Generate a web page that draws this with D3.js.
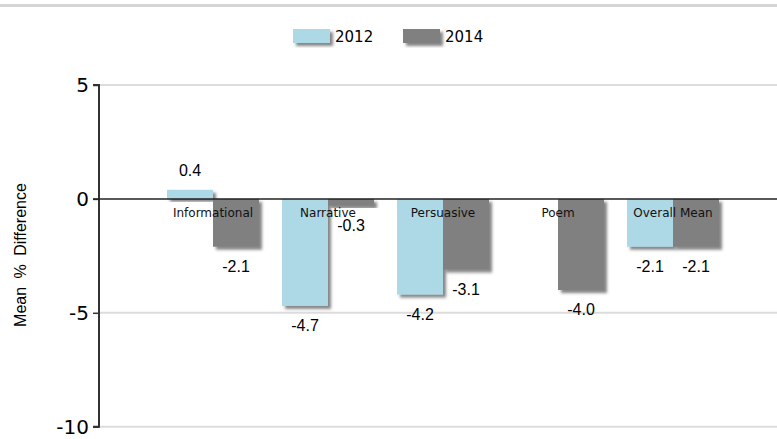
<!DOCTYPE html>
<html><head><meta charset="utf-8">
<script src="https://cdnjs.cloudflare.com/ajax/libs/d3/7.8.5/d3.min.js"></script>
<style>body{margin:0;background:#fff}svg{display:block}</style>
</head><body>
<script>
const categories = ["Informational","Narrative","Persuasive","Poem","Overall Mean"];
const seriesNames = ["2012","2014"];
const values2012 = [0.4, -4.7, -4.2, null, -2.1];
const values2014 = [-2.1, -0.3, -3.1, -4.0, -2.1];
const yTicks = [5, 0, -5, -10];
const colors = ["#add8e6", "#808080"];

const W = 777, H = 439;
const svg = d3.select("body").append("svg").attr("width", W).attr("height", H);
const defs = svg.append("defs");
const f = defs.append("filter").attr("id","sh").attr("x","-20%").attr("y","-20%").attr("width","150%").attr("height","150%");
f.append("feDropShadow").attr("dx",3).attr("dy",3).attr("stdDeviation",1.5).attr("flood-color","#333").attr("flood-opacity",0.6);

// top border
svg.append("rect").attr("x",0).attr("y",4).attr("width",W).attr("height",3).attr("fill","#d4d4d4");

const y = d3.scaleLinear().domain([-10,5]).range([426.7,85]);
const x = d3.scaleBand().domain(categories).range([155.5,730.5]).paddingInner(0.2).paddingOuter(0.1);
const xs = d3.scaleBand().domain(seriesNames).range([0, x.bandwidth()]);

// gridlines
svg.append("g").selectAll("line").data(yTicks.filter(d=>d!==0)).join("line")
  .attr("x1",99).attr("x2",W).attr("y1",d=>y(d)).attr("y2",d=>y(d))
  .attr("stroke","#dcdcdc").attr("stroke-width",2);

// y axis
const yAxis = d3.axisLeft(y).tickValues(yTicks).tickSize(6).tickPadding(4).tickFormat(d=>String(d));
const ga = svg.append("g").attr("transform","translate(99,0)").call(yAxis);
ga.select(".domain").attr("stroke","#333").attr("stroke-width",2).attr("d","M-6,"+y(5)+"H0V"+y(-10)+"H-6");
ga.selectAll(".tick line").attr("stroke","#333").attr("stroke-width",1.5);
ga.selectAll(".tick text").attr("font-family","DejaVu Sans, Verdana, sans-serif").attr("font-size",20).attr("fill","#000");

// y title
svg.append("text").attr("transform","translate(26,"+255+") rotate(-90)")
  .attr("text-anchor","middle").attr("font-family","Liberation Sans, Arial, sans-serif")
  .attr("font-size",16).attr("word-spacing",4).attr("fill","#000").text("Mean % Difference");

const data = [];
categories.forEach((c,i)=>{
  [values2012, values2014].forEach((arr,s)=>{
    if (arr[i] !== null) data.push({c, s, v: arr[i]});
  });
});

// bars
svg.append("g").selectAll("rect").data(data).join("rect")
  .attr("x", d=>x(d.c)+xs(seriesNames[d.s]))
  .attr("width", xs.bandwidth())
  .attr("y", d=>y(Math.max(0,d.v)))
  .attr("height", d=>Math.abs(y(d.v)-y(0)))
  .attr("fill", d=>colors[d.s])
  .attr("filter","url(#sh)");

// zero line
svg.append("line").attr("x1",93).attr("x2",W).attr("y1",y(0)).attr("y2",y(0)).attr("stroke","#222").attr("stroke-width",1.5);

// category labels
svg.append("g").selectAll("text").data(categories).join("text")
  .attr("x", d=>x(d)+x.bandwidth()/2).attr("y", y(0)+18)
  .attr("text-anchor","middle").attr("font-family","DejaVu Sans, Verdana, sans-serif")
  .attr("font-size",12).attr("fill","#111").text(d=>d);

// value labels
svg.append("g").selectAll("text").data(data).join("text")
  .attr("x", d=>x(d.c)+xs(seriesNames[d.s])+xs.bandwidth()/2)
  .attr("y", d=> d.v>=0 ? y(d.v)-14 : y(d.v)+25)
  .attr("text-anchor","middle").attr("font-family","Liberation Sans, Arial, sans-serif")
  .attr("font-size",16).attr("fill","#000").text(d=>d.v.toFixed(1));

// legend
const lg = svg.append("g");
const lx = [293, 403];
seriesNames.forEach((n,i)=>{
  lg.append("rect").attr("x",lx[i]).attr("y",29).attr("width",37).attr("height",14).attr("fill",colors[i]).attr("filter","url(#sh)");
  lg.append("text").attr("x",lx[i]+42).attr("y",42).attr("font-family","DejaVu Sans, Verdana, sans-serif")
    .attr("font-size",15).attr("fill","#000").text(n);
});
</script>
</body></html>
